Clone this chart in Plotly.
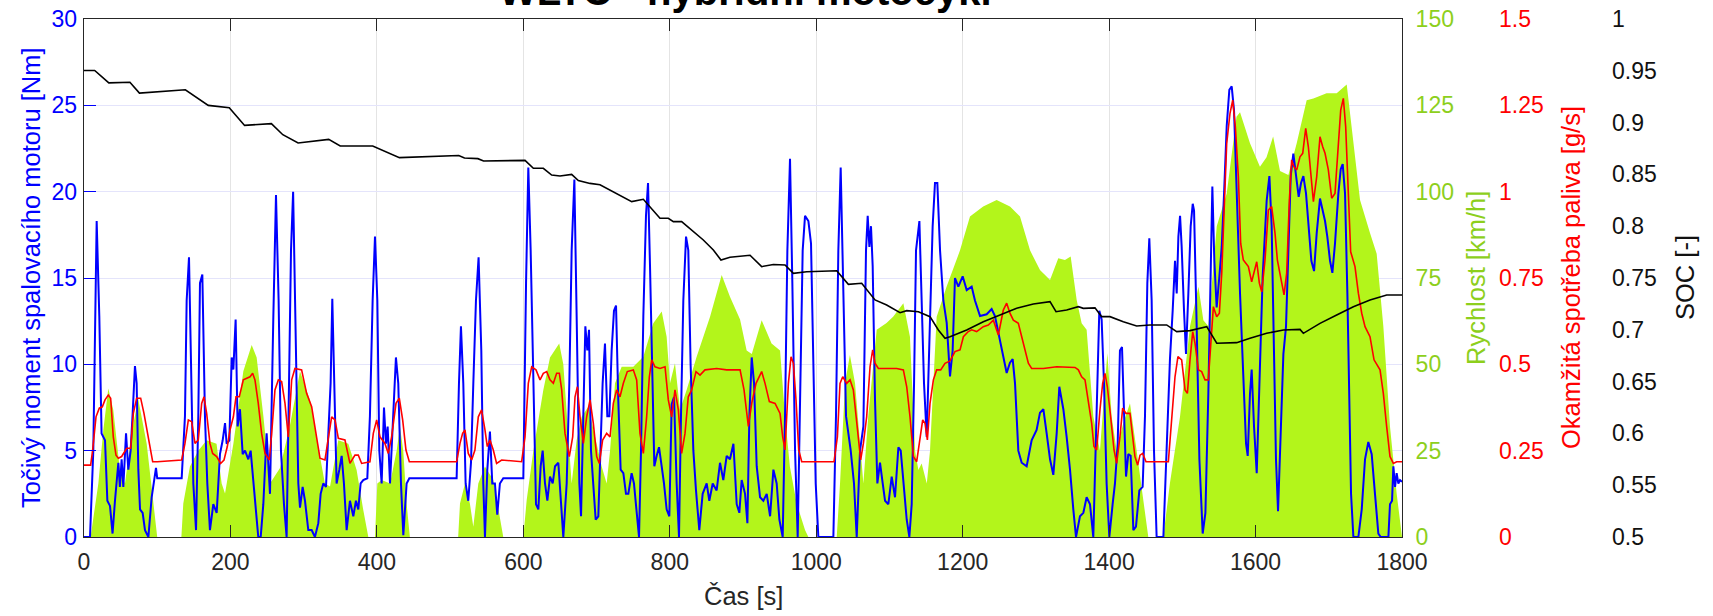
import plotly.graph_objects as go

W, H = 1713, 616

# ---------------- data ----------------
speed_t = [0, 9, 19.6, 26.4, 33.2, 40, 49, 56, 65, 74, 85.6, 94.7, 100, 133, 135.6, 144.7, 156, 167.5, 181, 188,
           192.6, 204, 217.6, 229, 235.8, 245, 254, 267.7, 281, 295, 308.6, 320, 329, 336, 347.3, 361, 372.3, 381.4,
           388.3, 397.4, 400.6, 406.5, 418, 427, 431.5, 436, 440.6, 445, 511, 513.5, 520.3, 527, 531.7, 538.5, 547.6,
           559, 568, 572.6, 600, 604.6, 613.7, 627.3, 636.4, 649, 654.6, 661.5, 666, 672.8, 679.7, 688.8, 697.9, 707,
           713.8, 718.4, 725.2, 734.3, 750.2, 763.9, 777.5, 789, 795.7, 800.3, 807.1, 814, 823, 836.7, 855, 870.9,
           882.2, 896, 905, 912, 925.5, 939, 950.6, 957.4, 964, 973.3, 984.7, 989.3, 1028, 1032.5, 1039.4, 1046, 1053,
           1060, 1064.4, 1071, 1082.6, 1096, 1105, 1119, 1128, 1135, 1139.5, 1144, 1151, 1155.4, 1164.5, 1178, 1196.4,
           1210, 1228, 1246.4, 1264.6, 1278.3, 1292, 1305.6, 1319.3, 1330.6, 1339.7, 1347.5, 1355.7, 1362.5, 1369.3,
           1378.5, 1387.5, 1394.4, 1397.6, 1403.5, 1410.3, 1419.4, 1428.5, 1437.6, 1446.7, 1453.5, 1474, 1483, 1496.8,
           1510.5, 1522, 1528.7, 1535.5, 1547, 1560.6, 1574, 1578.8, 1592.4, 1606, 1615, 1624, 1633.4, 1644.8, 1656.2,
           1669.8, 1679, 1697, 1710.8, 1724.5, 1731.3, 1742.7, 1756.3, 1765.4, 1774.5, 1783.6, 1792.7, 1800]
speed_v = [0, 0, 15.5, 31, 43, 36.8, 19.4, 15.5, 30, 40, 27, 10.7, 0, 0, 9.7, 20.4, 25, 28, 27, 15.5,
           12.6, 27, 48, 55.6, 52, 35, 15.5, 20, 32, 48, 39.7, 26, 15.5, 14.6, 28, 27, 19.4, 7.8,
           0, 0, 15.5, 16.5, 15.5, 25, 32, 25, 9.7, 0, 0, 9.7, 15.5, 9.7, 3, 15.5, 20.4,
           16.5, 5.9, 0, 0, 10.7, 25, 42.6, 52, 56, 50, 30, 15.5, 28, 34.8, 37.7, 29, 20.4,
           15.5, 25, 44.5, 49.3, 49.3, 52.2, 61.9, 65.3, 58, 44.5, 50.3, 36.8, 42.6, 52.2, 63.8, 75.9,
           69.6, 63, 54, 53, 62.8, 56, 54, 35, 20.4, 9.7, 2, 0, 0, 15.5, 44.5, 52.7, 44.5,
           25, 15.5, 34.8, 60, 62, 63.8, 67.7, 58, 25, 19.4, 21.3, 15.5, 25, 63.8, 72.5, 83,
           92.8, 95.7, 97.6, 95.7, 92.8, 83, 77.3, 74.4, 80.7, 80.2, 81.2, 68.6, 61.9, 60,
           34.8, 25, 44.5, 53.2, 34.8, 25, 33, 38.7, 25, 9.7, 0, 0, 15.5, 34.8,
           61, 72.5, 62.8, 61, 90, 99.5, 121.7, 123, 114, 107.2, 110, 116, 106, 104.8, 114,
           126.5, 127, 128.5, 128.5, 131, 118.8, 97.6, 88, 82, 61, 32, 12.6, 0]

torque_t = [0, 8.2, 12.7, 17.3, 20.9, 24, 28.7, 31.9, 35.5, 39, 42.3, 46.9, 49, 51.4, 53.7, 57.4, 60.5, 63.7, 66.5,
            69.6, 71.9, 74.2, 76.5, 80.1, 83.3, 87.9, 92.4, 98.3, 100, 133.4, 137.9, 140.2, 143.4, 145.7, 149.3, 153,
            156.1, 158.4, 161.6, 165.2, 168.4, 172, 176.6, 181.2, 185.7, 189.4, 192.6, 194.8, 198.5, 201.7, 204,
            207.1, 209.8, 213, 216.7, 219.9, 224.4, 227.6, 231.2, 234.9, 238, 241.3, 244.9, 249.4, 254, 258.6, 262.2,
            265.8, 269, 273.1, 276.7, 280, 282.7, 285.6, 289.5, 292.7, 295, 298.6, 301.8, 306.3, 310.9, 315.4, 320,
            323.2, 326.8, 330.5, 333.7, 336.8, 339.1, 341.8, 345, 348.7, 351.9, 355, 358.7, 363.2, 367.8, 371.4,
            374.6, 377.8, 381.4, 386.9, 390.5, 394.2, 397.4, 400.6, 403.3, 406.5, 409.7, 412.4, 414.7, 417.9, 422.4,
            426, 429.2, 432.9, 436.1, 440.6, 444.3, 508.9, 512.1, 514.8, 518, 521.2, 524.8, 528.5, 531.7, 535.3,
            538.9, 542.6, 545.3, 547.6, 550.8, 554.4, 557.6, 561.2, 564.4, 568, 572.6, 600, 603.7, 606.8,
            610, 613.7, 617.3, 620.5, 623.7, 626.4, 629.6, 632.8, 636.4, 640.1, 643.3, 647.8, 651, 654.6, 659.2,
            662.8, 666, 669.7, 672.8, 676.5, 678.8, 682, 684.7, 687.4, 689.7, 692.4, 695.6, 698.8, 702.4, 705.6,
            708.3, 711.5, 714.7, 717.5, 720.6, 723.8, 726.6, 729.7, 732.9, 736.6, 740.2, 743.4, 747.9, 751.1, 754.8,
            758, 760.7, 763.9, 767.5, 770.3, 773, 776.2, 778.9, 782.1, 785.3, 788.9, 792.1, 795.7, 799.4, 802.6,
            805.8, 809.4, 812.6, 815.3, 818.5, 822.2, 825.3, 828.5, 832.2, 835.8, 840.3, 844.9, 850.4, 854, 858.6,
            864, 868.6, 873.1, 877.7, 882.2, 886.9, 891.4, 895, 898.2, 902.8, 906, 908.7, 911.9, 915.1, 918.7,
            923.3, 927.8, 932.4, 937, 941.5, 946, 949.7, 954.2, 957.4, 960.6, 964.2, 967.4, 971.1, 974.7, 977.9,
            981.5, 984.7, 989.3, 992.9, 996.1, 999.3, 1002.9, 1023.4, 1027, 1030.2, 1033.4, 1037.1, 1040.7, 1043.9,
            1047.1, 1051.6, 1055.3, 1059.8, 1064.4, 1068, 1070.3, 1072.6, 1074.8, 1077.1, 1080.3, 1083.5, 1087.1,
            1090.8, 1094, 1098.5, 1103.1, 1107.6, 1112.2, 1115.4, 1119, 1123.6, 1127.2, 1130.4, 1133.6, 1136.3,
            1140.9, 1144, 1147.2, 1150.9, 1154.5, 1156.8, 1159, 1162.2, 1165.4, 1169.1, 1173.6, 1178.2, 1182.7,
            1186.3, 1189.5, 1194.1, 1200, 1205.5, 1212.3, 1216.8, 1223.7, 1232.8, 1239.6, 1244.1, 1250.1, 1254.6,
            1260.1, 1264.6, 1268.3, 1271.5, 1276, 1280.6, 1287.4, 1294.2, 1301, 1305.6, 1310.2, 1314.7, 1319.3,
            1323.8, 1328.4, 1332, 1337.5, 1342, 1346.6, 1351.1, 1354.8, 1360.2, 1364.8, 1369.3, 1373.9, 1378.4,
            1383, 1386.6, 1389.8, 1393, 1396.6, 1400.3, 1404.8, 1408, 1411.7, 1414.8, 1417.6, 1420.3, 1423.1,
            1426.2, 1429.4, 1433.1, 1436.7, 1441.3, 1445.8, 1449, 1452.2, 1454.9, 1458.1, 1461.3, 1464.9, 1474.1,
            1478.6, 1483.1, 1486.8, 1490, 1492.3, 1494.6, 1496.9, 1499.1, 1502.3, 1505, 1508.2, 1511.4, 1514.2,
            1516, 1519.6, 1523.3, 1527.8, 1531.5, 1535.5, 1538.7, 1541, 1543.7, 1546.9, 1550.6, 1553.8, 1557,
            1560.6, 1564.2, 1567.4, 1570.6, 1574.2, 1578.8, 1583.3, 1587, 1589.3, 1592.4, 1594.7, 1597.9, 1601.6,
            1605.2, 1609.7, 1615.2, 1618.9, 1622, 1625.2, 1627.9, 1630.7, 1634.3, 1638, 1641.6, 1644.8, 1648,
            1651.6, 1655.3, 1658.9, 1662.1, 1665.3, 1668.9, 1672.6, 1676.2, 1679.9, 1683.5, 1688, 1691.7, 1694.9,
            1698, 1701.7, 1704.9, 1708.5, 1713.1, 1716.3, 1719, 1722.2, 1725.4, 1728.1, 1730.4, 1733.6, 1740.4,
            1745, 1749.5, 1754, 1758.6, 1763.1, 1767.7, 1770.9, 1781.4, 1783.6, 1786.4, 1788.2, 1790.5, 1792.7,
            1795, 1797.3, 1800]
torque_v = [0, 0, 5, 18.3, 12.8, 6, 5.6, 2.1, 1.8, 0.2, 2.1, 4.3, 2.9, 4.5, 2.9, 6, 3.9, 5, 7.2,
            9.9, 8.9, 3.9, 1.6, 1.4, 0.4, 0, 2.3, 4, 3.4, 3.4, 7, 13.7, 16.2, 10.8, 3.1, 0.4,
            7, 14.7, 15.2, 7, 3.1, 0.4, 1.9, 1.4, 4.8, 5.6, 6.6, 5.4, 5.6, 10.4, 9.7,
            12.6, 6.4, 7.4, 4.8, 5, 4.5, 5, 3.1, 1.2, 0, 0, 1.9, 6, 2.5, 12.8, 19.8,
            13.7, 5, 1.9, 0, 8.9, 16.6, 20, 10.8, 3.1, 1.7, 2.9, 2.1, 0.4, 0.4, 0, 0.8,
            2.5, 3.1, 2.9, 6, 8.9, 13.8, 7.9, 3.1, 3.9, 4.7, 3.1, 0.4, 2.1, 1.2, 2.1,
            1.6, 3.1, 3.3, 3.4, 7, 13.7, 17.4, 13.7, 5, 3.1, 7.5, 5.4, 6.4, 3.1, 7,
            10.4, 8.9, 3.1, 0.1, 3.1, 3.4, 3.4, 8.9, 12.2, 8.9, 3.1, 2.1, 4.3, 8.9, 13.7,
            16.2, 10.8, 3.1, 0, 3.9, 6.1, 3.1, 3.1, 1.3, 3.1, 3.4, 3.4, 14.7, 21.4,
            16.6, 8.9, 1.9, 1.6, 4.1, 5, 3.1, 2.1, 3.5, 3.1, 4.1, 4.3, 2.1, 0, 3.1,
            8.9, 16.6, 20.7, 12.8, 3.1, 1.2, 7, 12.2, 10.8, 12, 5, 3.1, 1, 1.2, 5,
            8.9, 11.2, 7, 7, 10.8, 13.1, 13.4, 7.9, 3.9, 3.7, 2.5, 2.5, 3.7, 3.1, 1.2,
            0, 5, 12.8, 18.6, 20.5, 15.7, 8.9, 4.1, 4.7, 5.2, 4.1, 3.1, 1.6, 1.2, 7.7,
            8.1, 3.1, 0, 7, 13.7, 17.4, 16.6, 9.9, 5, 2.7, 0.4, 2.5, 3.1, 2.1, 3.1,
            2.7, 4.3, 3.3, 4.7, 4.5, 5.4, 1.9, 1.4, 3.3, 2.5, 0.8, 7, 10.4, 8.9, 4.1,
            2.3, 2.1, 2.5, 1.2, 3.9, 3.1, 1, 0, 7, 16.6, 21.9, 14.7, 5, 0, 7,
            16.6, 18.6, 18.3, 17, 10.8, 3.1, 0, 0, 7, 16.6, 21.4, 13.7, 7, 6,
            5, 3.1, 0, 5, 6.4, 16.6, 18.6, 16.8, 18, 15.7, 7.9, 3.1, 4.3,
            3.1, 2.1, 1.9, 3.5, 2.3, 5.2, 5, 3.1, 1, 0, 1.9, 8.9, 16.6,
            18.3, 13.7, 8.9, 5.8, 10.8, 14.7, 18, 20.5, 20.5, 16.6, 13.7, 12.4, 9.3,
            10.8, 15, 14.5, 15.1, 14.3, 14.5, 13.7, 12.8, 12.9, 13.2, 12.8, 11.6, 10.8,
            9.5, 10.1, 10.3, 8.9, 5, 4.3, 4.1, 5.6, 6.2, 7.2, 7.4, 6, 4.5,
            3.6, 6, 8.7, 7.4, 5.8, 3.9, 1.6, 0, 1.2, 1.4, 2.3, 1.9, 0,
            7, 13.1, 12.6, 8.9, 3.1, 0, 1.9, 3.1, 5.4, 10.8, 11, 7, 3.5,
            4.8, 4.7, 0.4, 0.6, 2.7, 2.9, 7, 14.7, 17.3, 13.7, 5, 0, 0,
            5, 10.3, 13.1, 16, 14.1, 17.4, 18.6, 16.8, 13.1, 10.6, 14.1, 18, 19.3,
            18.9, 12.2, 4.5, 0.2, 1.4, 8.3, 16, 20.3, 16, 13.3, 15.1, 16.8, 19.9,
            23.8, 25.9, 26.1, 24.7, 19.9, 14.1, 9.3, 5.4, 4.7, 8.3, 9.7, 6.4, 3.7,
            8.3, 15.1, 19.5, 20.9, 18, 10.3, 4.5, 1.5, 6.4, 10.6, 12.2, 17, 20.9,
            22.2, 20.9, 19.7, 20.5, 20.9, 19.9, 18, 16, 15.4, 17.6, 19.6, 18.9, 18.3,
            17.4, 16, 15.3, 17, 19.9, 21.3, 21.6, 19.9, 14.1, 8.3, 2.5, 0, 0,
            1.6, 4.5, 5.5, 4.8, 2.5, 0.2, 0, 0, 1.9, 2.1, 4.1, 2.9, 3.7,
            3.1, 3.3, 3.2]

fuel_t = [0, 9.1, 11.8, 16.4, 20.9, 25, 28.7, 33.2, 36.4, 40, 43.7, 46.9, 51.4, 58.3, 63.7, 67.4, 71.9, 77.4, 81.9,
          87.9, 93.8, 100, 133.4, 137.9, 142.5, 147, 151.6, 156.1, 160.7, 163.9, 167.5, 172, 175.7, 181.2, 186.6,
          191.2, 195.7, 199.4, 204, 207.6, 212.1, 217.6, 222.1, 226.7, 230.3, 233.5, 238, 242.6, 247.2, 253.1,
          256.3, 260.8, 265.4, 269.9, 274.5, 279, 283.6, 288.1, 297.2, 304, 310.9, 317.7, 322.3, 329.1, 333.7,
          338.2, 342.8, 347.3, 356.4, 363.2, 370.1, 374.6, 379.2, 390.5, 395.1, 399.7, 404.2, 411, 415.6, 420.1,
          426.1, 430.6, 435.2, 439.7, 444.3, 508.9, 513.5, 517.1, 520.3, 524.8, 529.4, 533.9, 538.5, 543, 547.6,
          550.8, 554.4, 559, 563.5, 570.4, 597.7, 602.3, 606.8, 611.4, 617.3, 622.8, 627.3, 631.9, 636.4, 641,
          645.5, 649.2, 652.4, 656.9, 662.8, 667.4, 670.6, 673.8, 677.4, 682, 686.5, 691.1, 695.6, 700.2, 703.8,
          708.3, 713.8, 718.4, 722.9, 727.5, 732, 736.6, 742, 750.2, 754.8, 759.3, 763.9, 768.4, 772.1, 775.3,
          779.8, 786.6, 793.5, 798, 802.6, 807.1, 811.7, 816.2, 820.8, 825.3, 829.9, 835.8, 841.3, 848.1, 864,
          877.7, 896, 901.4, 907.3, 911.9, 917.8, 925.5, 930.1, 936, 943.8, 950.6, 954.2, 957.4, 962, 965.6,
          968.8, 972.4, 976.1, 980.2, 1024.3, 1028.9, 1032.5, 1036.2, 1041.6, 1046.2, 1050.7, 1055.3, 1060.7,
          1064.4, 1068.9, 1073.5, 1077.1, 1080.3, 1084.9, 1096.2, 1109.9, 1119, 1123.6, 1128.1, 1132.7, 1137.2,
          1141.8, 1145.4, 1148.6, 1151.8, 1155.4, 1160, 1164.5, 1170, 1175.9, 1182.7, 1189.5, 1196.4, 1201,
          1207.7, 1212.3, 1219.1, 1228.2, 1235, 1241.9, 1248.7, 1255.5, 1260.1, 1264.6, 1269.2, 1276, 1280.6,
          1285.1, 1289.7, 1294.2, 1310.2, 1328.4, 1342, 1353.4, 1358, 1362.5, 1367.1, 1371.6, 1376.2, 1379.3,
          1383, 1387.5, 1391.2, 1394.4, 1397.6, 1402.1, 1406.7, 1410.3, 1414.8, 1418.5, 1423.1, 1428.5, 1432.1,
          1435.3, 1439, 1442.2, 1445.8, 1450.4, 1480.9, 1485.4, 1490, 1494, 1499.1, 1503.7, 1506.9, 1510.5,
          1514.2, 1517.3, 1521.9, 1526.4, 1531, 1535.5, 1538.7, 1542.4, 1546.9, 1550.6, 1553.8, 1557, 1560.6,
          1565.1, 1568.8, 1572.4, 1576.5, 1579.7, 1583.3, 1587, 1590.2, 1594.7, 1597.9, 1601.6, 1605.2, 1608.4,
          1612.9, 1617.5, 1622, 1626.6, 1629.8, 1634.3, 1638.9, 1642.5, 1646.2, 1649.3, 1652.5, 1656.2, 1660.7,
          1664.4, 1668.5, 1672.1, 1675.3, 1679, 1683.5, 1688, 1691.7, 1694.9, 1699.4, 1704, 1708.5, 1713.1,
          1716.3, 1719.9, 1723.1, 1726.7, 1729.9, 1735.8, 1740.4, 1745, 1749.5, 1756.3, 1761.8, 1770, 1774.5,
          1779.1, 1783.6, 1788.2, 1792.7, 1800]
fuel_v = [0.208, 0.208, 0.252, 0.348, 0.373, 0.377, 0.397, 0.411, 0.402, 0.29, 0.237, 0.228, 0.233, 0.257, 0.257,
          0.358, 0.402, 0.402, 0.358, 0.281, 0.218, 0.218, 0.223, 0.271, 0.339, 0.334, 0.271, 0.281, 0.387, 0.406,
          0.358, 0.271, 0.242, 0.233, 0.213, 0.223, 0.262, 0.31, 0.348, 0.406, 0.406, 0.455, 0.459, 0.464, 0.474,
          0.455, 0.387, 0.3, 0.242, 0.223, 0.3, 0.426, 0.455, 0.45, 0.387, 0.29, 0.455, 0.488, 0.484, 0.416, 0.377,
          0.281, 0.228, 0.223, 0.29, 0.348, 0.339, 0.286, 0.281, 0.213, 0.237, 0.237, 0.213, 0.218, 0.3, 0.339,
          0.29, 0.271, 0.242, 0.29, 0.387, 0.402, 0.339, 0.252, 0.218, 0.218, 0.271, 0.3, 0.31, 0.242, 0.223,
          0.252, 0.348, 0.368, 0.31, 0.262, 0.281, 0.252, 0.213, 0.223, 0.218, 0.29, 0.445, 0.493, 0.484, 0.455,
          0.474, 0.479, 0.455, 0.445, 0.474, 0.474, 0.426, 0.3, 0.233, 0.29, 0.406, 0.435, 0.348, 0.271, 0.348,
          0.397, 0.329, 0.233, 0.213, 0.281, 0.3, 0.29, 0.387, 0.426, 0.406, 0.445, 0.479, 0.484, 0.455, 0.3,
          0.242, 0.348, 0.464, 0.513, 0.493, 0.488, 0.493, 0.397, 0.348, 0.426, 0.368, 0.242, 0.3, 0.406, 0.426,
          0.479, 0.469, 0.484, 0.488, 0.484, 0.484, 0.426, 0.32, 0.387, 0.445, 0.479, 0.445, 0.392, 0.387, 0.358,
          0.29, 0.252, 0.445, 0.522, 0.503, 0.397, 0.252, 0.218, 0.218, 0.29, 0.445, 0.464, 0.445, 0.455, 0.426,
          0.329, 0.223, 0.271, 0.348, 0.493, 0.542, 0.503, 0.488, 0.488, 0.488, 0.484, 0.435, 0.348, 0.233, 0.218,
          0.281, 0.339, 0.329, 0.281, 0.387, 0.455, 0.484, 0.484, 0.503, 0.51, 0.537, 0.542, 0.58, 0.595, 0.6,
          0.595, 0.609, 0.614, 0.628, 0.585, 0.657, 0.677, 0.648, 0.628, 0.619, 0.58, 0.542, 0.503, 0.488, 0.488,
          0.493, 0.491, 0.491, 0.484, 0.464, 0.455, 0.397, 0.329, 0.262, 0.252, 0.368, 0.445, 0.474, 0.435, 0.348,
          0.252, 0.213, 0.29, 0.373, 0.358, 0.358, 0.3, 0.233, 0.208, 0.237, 0.242, 0.218, 0.218, 0.348, 0.464,
          0.522, 0.513, 0.426, 0.416, 0.513, 0.595, 0.561, 0.484, 0.479, 0.455, 0.455, 0.561, 0.667, 0.638, 0.648,
          0.764, 0.947, 1.14, 1.227, 1.265, 1.188, 1.043, 0.85, 0.802, 0.792, 0.783, 0.739, 0.764, 0.797, 0.735,
          0.71, 0.802, 0.947, 0.957, 0.879, 0.802, 0.754, 0.701, 0.764, 0.976, 1.092, 1.072, 1.063, 1.101, 1.111,
          1.183, 1.13, 1.053, 0.971, 1.043, 1.159, 1.13, 1.111, 1.063, 0.981, 0.995, 1.121, 1.236, 1.27, 1.188,
          0.995, 0.826, 0.783, 0.706, 0.648, 0.609, 0.58, 0.513, 0.484, 0.416, 0.319, 0.233, 0.213, 0.218, 0.218]

soc_t = [0, 14.6, 33.9, 62.7, 75.7, 138.4, 169.7, 198.4, 219.3, 255.9, 271.5, 292.4, 334.2, 349.9, 394.3, 407.3,
         430.8, 511.8, 519.6, 537.9, 545.7, 602.3, 613.7, 627.3, 638.7, 650.1, 666, 675.1, 691.1, 704.7, 718.4,
         736.6, 748, 763.9, 773, 786.6, 798, 804.9, 816.2, 832.2, 845.8, 859.5, 869.9, 882.2, 909.6, 925.5,
         941.5, 957.4, 968.8, 987, 1028, 1043.9, 1062.1, 1080.3, 1096.2, 1114.5, 1123.6, 1139.5, 1155.4, 1166.8,
         1175.9, 1182.7, 1205.5, 1228.2, 1251, 1273.7, 1296.5, 1319.3, 1327.5, 1342, 1358, 1364.8, 1380.7,
         1389.8, 1401.2, 1419.4, 1437.6, 1455.8, 1478.6, 1492.3, 1510.5, 1533.3, 1547, 1574.2, 1592.4, 1615.2,
         1638, 1660.7, 1665.3, 1688, 1710.8, 1733.6, 1756.3, 1779.1, 1800]
soc_v = [0.9503, 0.9503, 0.9383, 0.939, 0.9285, 0.9317, 0.9166, 0.9144, 0.8973, 0.899, 0.8883, 0.8803, 0.8838,
         0.8774, 0.8774, 0.8732, 0.8662, 0.8683, 0.8658, 0.8652, 0.863, 0.8635, 0.8559, 0.8559, 0.8494, 0.8484,
         0.850, 0.844, 0.8413, 0.840, 0.835, 0.8285, 0.8237, 0.826, 0.8189, 0.8077, 0.8077, 0.8044, 0.8044, 0.7947,
         0.7867, 0.777, 0.7674, 0.770, 0.772, 0.761, 0.763, 0.7625, 0.7545, 0.756, 0.757, 0.7439, 0.7449, 0.7288,
         0.724, 0.7165, 0.7185, 0.7175, 0.7127, 0.6998, 0.6918, 0.6934, 0.6998, 0.7078, 0.7143, 0.7207, 0.7249,
         0.7272, 0.7175, 0.7191, 0.7223, 0.7207, 0.7212, 0.7127, 0.7127, 0.7078, 0.7037, 0.7047, 0.7047, 0.6982,
         0.6992, 0.703, 0.687, 0.6876, 0.6918, 0.6966, 0.6998, 0.7004, 0.6966, 0.7062, 0.7143, 0.7223, 0.7288,
         0.7336, 0.7336]

x_ticks = [0, 200, 400, 600, 800, 1000, 1200, 1400, 1600, 1800]
torque_ticks = [0, 5, 10, 15, 20, 25, 30]
speed_ticks = [0, 25, 50, 75, 100, 125, 150]
fuel_ticks = [0, 0.25, 0.5, 0.75, 1, 1.25, 1.5]
fuel_labels = ["0", "0.25", "0.5", "0.75", "1", "1.25", "1.5"]
soc_ticks = [0.5, 0.55, 0.6, 0.65, 0.7, 0.75, 0.8, 0.85, 0.9, 0.95, 1.0]
soc_labels = ["0.5", "0.55", "0.6", "0.65", "0.7", "0.75", "0.8", "0.85", "0.9", "0.95", "1"]

title_text = "WLTC - hybridní motocykl"
x_title = "Čas [s]"
torque_title = "Točivý moment spalovacího motoru [Nm]"
speed_title = "Rychlost [km/h]"
fuel_title = "Okamžitá spotřeba paliva [g/s]"
soc_title = "SOC [-]"

# ---------------- styling ----------------
FONT = "Liberation Sans, Arial, Helvetica, sans-serif"
BLUE = "#0000ff"
RED = "#ff0000"
GREEN_FILL = "#b3f51b"
GREEN_TXT = "#8dcf1c"
DARK = "#262626"
TICK_FS = 23
LAB_FS = 25.5

L, R, T, B = 84, 1402, 19, 537
xd = [L / W, R / W]
yd = [(H - B) / H, (H - T) / H]

fig = go.Figure()
fig.add_trace(go.Scatter(x=speed_t, y=speed_v, mode="lines", fill="tozeroy", fillcolor=GREEN_FILL,
                         line=dict(width=0, color=GREEN_FILL), yaxis="y", hoverinfo="skip", showlegend=False))
fig.add_trace(go.Scatter(x=torque_t, y=torque_v, mode="lines", line=dict(color=BLUE, width=2),
                         yaxis="y2", showlegend=False))
fig.add_trace(go.Scatter(x=fuel_t, y=fuel_v, mode="lines", line=dict(color=RED, width=1.6),
                         yaxis="y3", showlegend=False))
fig.add_trace(go.Scatter(x=soc_t, y=soc_v, mode="lines", line=dict(color="#000000", width=1.6),
                         yaxis="y4", showlegend=False))

common_y = dict(domain=yd, zeroline=False, fixedrange=True)

fig.update_layout(
    width=W, height=H,
    margin=dict(l=0, r=0, t=0, b=0, autoexpand=False),
    paper_bgcolor="white", plot_bgcolor="white",
    font=dict(family=FONT, size=TICK_FS, color=DARK),
    showlegend=False,
    xaxis=dict(domain=xd, range=[0, 1800], tickvals=x_ticks, ticks="inside", ticklen=12, tickwidth=1,
               tickcolor=DARK, showline=True, linecolor=DARK, linewidth=1, mirror="ticks",
               showgrid=True, gridcolor="#e4e4e4", gridwidth=1, zeroline=False,
               tickfont=dict(size=TICK_FS, color=DARK), ticklabelstandoff=4),
    yaxis=dict(**common_y, range=[0, 150], side="right", anchor="x", tickvals=speed_ticks,
               ticks="", showline=True, linecolor=DARK, linewidth=1, mirror=True,
               showgrid=True, gridcolor="#e4e4fb", gridwidth=1,
               tickfont=dict(size=TICK_FS, color=GREEN_TXT), ticklabelstandoff=8),
    yaxis2=dict(**common_y, range=[0, 30], overlaying="y", side="left", anchor="x", tickvals=torque_ticks,
                ticks="inside", ticklen=12, tickcolor=BLUE, showline=False, showgrid=False,
                tickfont=dict(size=TICK_FS, color=BLUE), ticklabelstandoff=6),
    yaxis3=dict(**common_y, range=[0, 1.5], overlaying="y", side="right", anchor="free",
                position=1492 / W, tickvals=fuel_ticks, ticktext=fuel_labels, ticks="",
                showline=False, showgrid=False, tickfont=dict(size=TICK_FS, color=RED), ticklabelstandoff=6),
    yaxis4=dict(**common_y, range=[0.5, 1.0], overlaying="y", side="right", anchor="free",
                position=1605 / W, tickvals=soc_ticks, ticktext=soc_labels, ticks="",
                showline=False, showgrid=False, tickfont=dict(size=TICK_FS, color="#111111"),
                ticklabelstandoff=6),
    yaxis5=dict(**common_y, range=[0, 1.5], overlaying="y", side="right", anchor="x", tickvals=fuel_ticks,
                ticks="inside", ticklen=12, tickcolor=RED, mirror="ticks", showline=False,
                showticklabels=False, showgrid=False),
    yaxis6=dict(**common_y, range=[0.5, 1.0], overlaying="y", side="right", anchor="x", tickvals=soc_ticks,
                ticks="inside", ticklen=12, tickcolor=DARK, mirror="ticks", showline=False,
                showticklabels=False, showgrid=False),
)

def ann(text, px, py, color, size, angle=0, bold=False):
    fig.add_annotation(text=("<b>%s</b>" % text) if bold else text, x=px / W, y=(H - py) / H,
                       xref="paper", yref="paper", showarrow=False, textangle=angle,
                       xanchor="center", yanchor="middle",
                       font=dict(family=FONT, size=size, color=color))

ann(title_text, 745, -9, "#000000", 40, bold=True)
ann(x_title, 743, 596, DARK, LAB_FS)
ann(torque_title, 31, 278, BLUE, LAB_FS, angle=-90)
ann(speed_title, 1476, 278, GREEN_TXT, LAB_FS, angle=-90)
ann(fuel_title, 1571, 278, RED, LAB_FS, angle=-90)
ann(soc_title, 1685, 278, "#111111", LAB_FS, angle=-90)

fig.write_html("out.html", config={"displayModeBar": False, "staticPlot": True},
               post_script="document.body.style.margin='0px';document.body.style.overflow='hidden';")
